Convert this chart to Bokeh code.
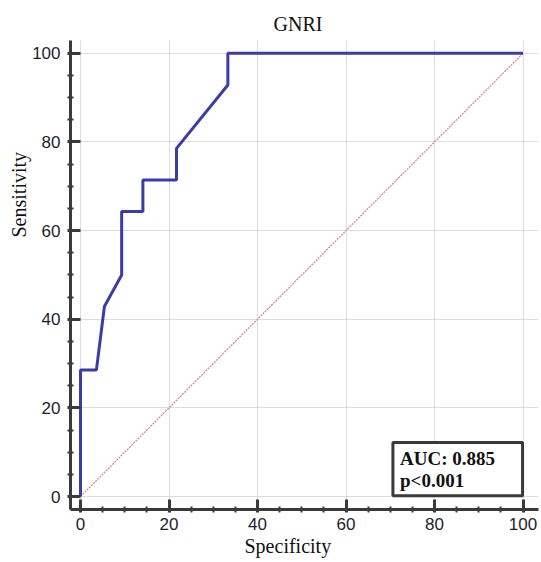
from bokeh.plotting import figure
from bokeh.models import FixedTicker, BoxAnnotation, Label, Range1d, Title
from bokeh.embed import file_html
from bokeh.resources import INLINE

# ROC curve (100 - specificity on x, sensitivity on y)
fpr = [0, 0, 3.6, 5.4, 9.3, 9.3, 14.1, 14.1, 21.7, 21.7, 33.3, 33.3, 100]
tpr = [0, 28.57, 28.57, 42.86, 50.0, 64.29, 64.29, 71.43, 71.43, 78.57, 92.86, 100, 100]
ref_x = [0, 100]
ref_y = [0, 100]
major_ticks = [0, 20, 40, 60, 80, 100]
minor_ticks = [5, 10, 15, 25, 30, 35, 45, 50, 55, 65, 70, 75, 85, 90, 95]
title_text = "GNRI"
x_label = "Specificity"
y_label = "Sensitivity"
auc_text = "AUC: 0.885"
p_text = "p<0.001"

p = figure(frame_width=468, frame_height=469, output_backend="svg", toolbar_location=None,
           x_range=Range1d(-2.26, 103.5), y_range=Range1d(-2.93, 102.9),
           min_border_left=70, min_border_right=3, min_border_top=40, min_border_bottom=53)
p.outline_line_color = None
p.background_fill_color = "white"
p.border_fill_color = "white"

p.title.text = title_text
p.title.text_font = "Liberation Serif"
p.title.text_font_style = "normal"
p.title.text_font_size = "20px"
p.title.align = "left"
p.title.offset = 203
p.title.standoff = 12
p.title.text_color = "#111111"

for ax in (p.xaxis[0], p.yaxis[0]):
    ax.ticker = FixedTicker(ticks=major_ticks, minor_ticks=minor_ticks)
    ax.axis_line_width = 3
    ax.axis_line_color = "#3a3a3a"
    ax.major_tick_line_width = 3
    ax.major_tick_line_color = "#3a3a3a"
    ax.major_tick_in = 10
    ax.major_tick_out = 3
    ax.minor_tick_line_width = 2
    ax.minor_tick_line_color = "#3a3a3a"
    ax.minor_tick_in = 3
    ax.minor_tick_out = 3
    ax.major_label_text_font = "Liberation Sans"
    ax.major_label_text_font_size = "17px"
    ax.major_label_text_color = "#1e1e2a"

p.xaxis.major_label_standoff = 5
p.yaxis.major_label_standoff = 7

p.grid.grid_line_color = "#bdbdbd"
p.grid.grid_line_dash = "1 1"
p.grid.grid_line_width = 1

p.line(ref_x, ref_y, line_color="#d48080", line_width=1.2, line_dash="2 1")
p.line(fpr, tpr, line_color="#3c3ca8", line_width=3)

box = BoxAnnotation(left=70.6, right=99.9, bottom=0.2, top=12.2,
                    fill_color="white", fill_alpha=1.0,
                    line_color="#3a3a3a", line_width=3, line_alpha=1.0)
p.add_layout(box)
p.add_layout(Label(x=72.2, y=8.6, text=auc_text, text_font="Liberation Serif",
                   text_font_style="bold", text_font_size="19px",
                   text_baseline="middle", text_color="#111111"))
p.add_layout(Label(x=72.2, y=3.6, text=p_text, text_font="Liberation Serif",
                   text_font_style="bold", text_font_size="19px",
                   text_baseline="middle", text_color="#111111"))

# axis titles as side-panel titles (left-aligned so that offset applies)
p.add_layout(Title(text=x_label, text_font="Liberation Serif", text_font_style="normal",
                   text_font_size="20px", align="left", offset=174, standoff=0,
                   text_color="#111111"), "below")
p.add_layout(Title(text=y_label, text_font="Liberation Serif", text_font_style="normal",
                   text_font_size="20px", align="left", offset=272, standoff=0,
                   text_color="#111111"), "left")

open("out.html", "w").write(file_html(p, INLINE))
